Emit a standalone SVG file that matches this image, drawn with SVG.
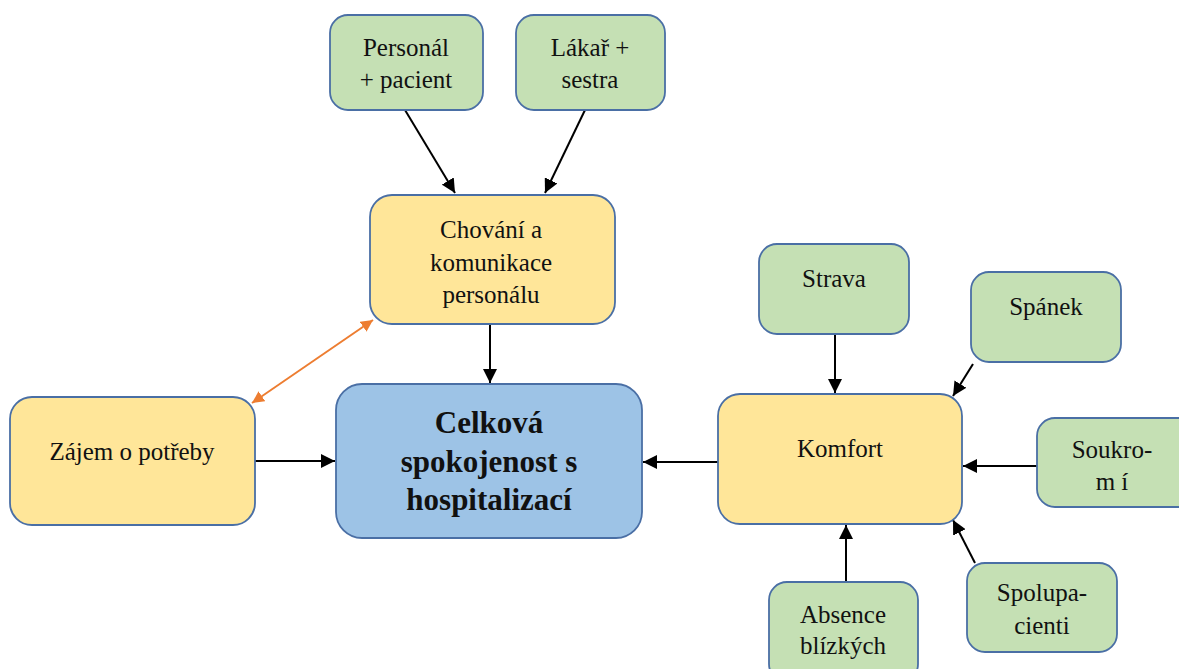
<svg xmlns="http://www.w3.org/2000/svg" width="1179" height="669" viewBox="0 0 1179 669">
<style>
.g{fill:#C5E0B4;stroke:#4A6FA5;stroke-width:1.8}
.y{fill:#FFE699;stroke:#4A6FA5;stroke-width:1.8}
.b{fill:#9DC3E6;stroke:#4A6FA5;stroke-width:1.8}
text{font-family:"Liberation Serif","Times New Roman",serif;font-size:25px;fill:#111;text-anchor:middle}
.bold{font-weight:bold;font-size:31px}
.c{stroke:#000;stroke-width:2;fill:none;marker-end:url(#ah)}
.o{stroke:#ED7D31;stroke-width:2;fill:none;marker-end:url(#ao);marker-start:url(#aos)}
</style>
<defs>
<marker id="ah" viewBox="0 0 10 10" refX="10" refY="5" markerWidth="7" markerHeight="7" orient="auto" markerUnits="strokeWidth"><path d="M0,0L10,5L0,10z" fill="#000"/></marker>
<marker id="ao" viewBox="0 0 10 10" refX="10" refY="5" markerWidth="6" markerHeight="6" orient="auto" markerUnits="strokeWidth"><path d="M0,0L10,5L0,10z" fill="#ED7D31"/></marker>
<marker id="aos" viewBox="0 0 10 10" refX="0" refY="5" markerWidth="6" markerHeight="6" orient="auto" markerUnits="strokeWidth"><path d="M10,0L0,5L10,10z" fill="#ED7D31"/></marker>
</defs>
<rect width="1179" height="669" fill="#fff"/>
<g id="connectors">
<line class="c" x1="405" y1="110" x2="455" y2="193"/>
<line class="c" x1="585" y1="110" x2="545" y2="193"/>
<line class="c" x1="490" y1="324" x2="490" y2="383"/>
<line class="c" x1="255" y1="461" x2="335" y2="461"/>
<line class="c" x1="718" y1="462" x2="643" y2="462"/>
<line class="c" x1="835" y1="334" x2="835" y2="393"/>
<line class="c" x1="973" y1="364" x2="953" y2="396"/>
<line class="c" x1="1037" y1="466" x2="963" y2="466"/>
<line class="c" x1="846" y1="582" x2="846" y2="525"/>
<line class="c" x1="975" y1="563" x2="953" y2="520"/>
<line class="o" x1="252" y1="403" x2="373" y2="320"/>
</g>
<g id="personal"><rect class="g" x="330" y="15" width="153" height="95" rx="18"/><text x="406" y="56">Personál</text><text x="406" y="88">+ pacient</text></g>
<g id="lekar"><rect class="g" x="516" y="15" width="149" height="95" rx="18"/><text x="590" y="56">Lákař +</text><text x="590" y="88">sestra</text></g>
<g id="chovani"><rect class="y" x="370" y="195" width="245" height="129" rx="22"/><text x="491" y="238">Chování a</text><text x="491" y="271">komunikace</text><text x="491" y="303">personálu</text></g>
<g id="zajem"><rect class="y" x="10" y="397" width="245" height="128" rx="22"/><text x="132" y="460">Zájem o potřeby</text></g>
<g id="celkova"><rect class="b" x="336" y="384" width="306" height="154" rx="26"/><text class="bold" x="489" y="433">Celková</text><text class="bold" x="489" y="472">spokojenost s</text><text class="bold" x="489" y="510">hospitalizací</text></g>
<g id="komfort"><rect class="y" x="718" y="394" width="244" height="130" rx="22"/><text x="840" y="457">Komfort</text></g>
<g id="strava"><rect class="g" x="759" y="244" width="150" height="90" rx="18"/><text x="834" y="287">Strava</text></g>
<g id="spanek"><rect class="g" x="971" y="272" width="150" height="90" rx="18"/><text x="1046" y="315">Spánek</text></g>
<g id="soukromi"><rect class="g" x="1037" y="418" width="160" height="89" rx="18"/><text x="1112" y="458">Soukro-</text><text x="1112" y="490">m í</text></g>
<g id="absence"><rect class="g" x="769" y="582" width="149" height="100" rx="18"/><text x="843" y="623">Absence</text><text x="843" y="654">blízkých</text></g>
<g id="spolupacienti"><rect class="g" x="967" y="563" width="150" height="89" rx="18"/><text x="1042" y="601">Spolupa-</text><text x="1042" y="634">cienti</text></g>
</svg>
